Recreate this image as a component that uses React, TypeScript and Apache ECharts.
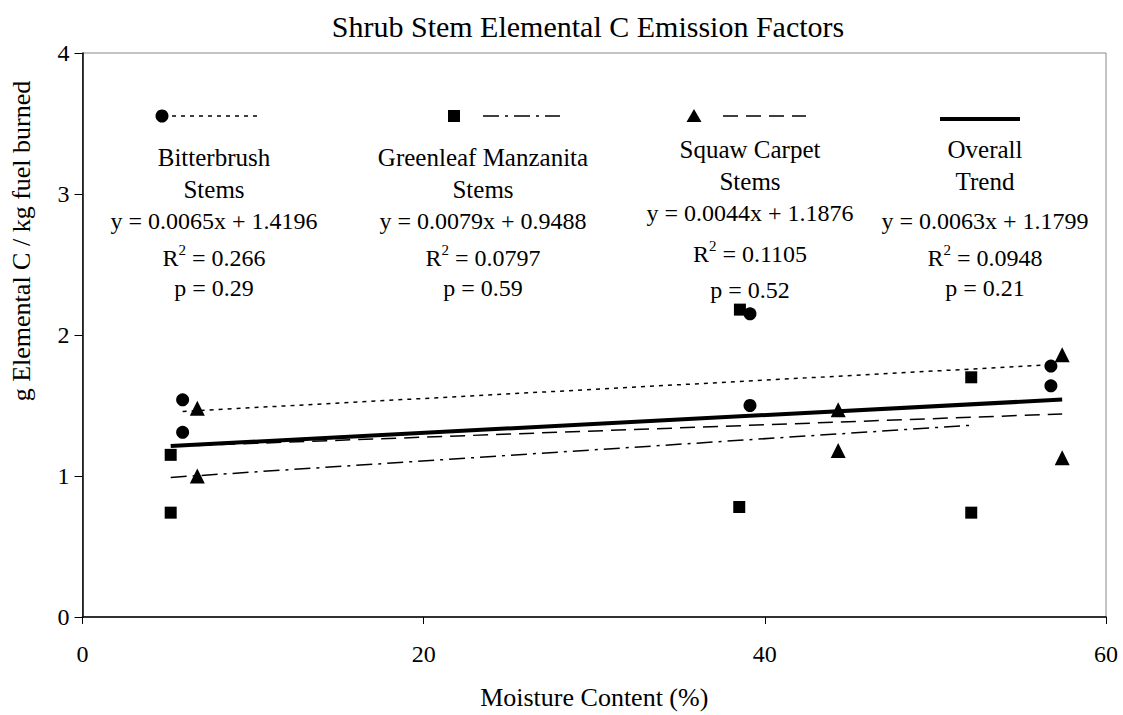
import React, { useEffect, useRef } from "react";
import * as echarts from "echarts";

// ---- data ----
const bitterX = [5.87, 5.87, 39.13, 39.13, 56.77, 56.77];
const bitterY = [1.54, 1.31, 2.15, 1.5, 1.78, 1.64];
const greenX = [5.17, 5.17, 38.54, 38.5, 52.1, 52.1];
const greenY = [1.15, 0.74, 2.18, 0.78, 1.7, 0.74];
const squawX = [6.73, 6.73, 44.3, 44.3, 57.43, 57.43];
const squawY = [1.48, 1.0, 1.47, 1.18, 1.86, 1.13];

// trendline end points
const bitterTrendX = [5.87, 56.77];
const bitterTrendY = [1.458, 1.789];
const greenTrendX = [5.17, 52.1];
const greenTrendY = [0.99, 1.36];
const squawTrendX = [6.73, 57.43];
const squawTrendY = [1.217, 1.44];
const overallTrendX = [5.17, 57.43];
const overallTrendY = [1.213, 1.542];

const xTicks = [0, 20, 40, 60];
const yTicks = [0, 1, 2, 3, 4];

const groupNames = [["Bitterbrush", "Stems"], ["Greenleaf Manzanita", "Stems"], ["Squaw Carpet", "Stems"], ["Overall", "Trend"]];
const equations = ["y = 0.0065x + 1.4196", "y = 0.0079x + 0.9488", "y = 0.0044x + 1.1876", "y = 0.0063x + 1.1799"];
const r2Values = ["0.266", "0.0797", "0.1105", "0.0948"];
const pValues = ["0.29", "0.59", "0.52", "0.21"];

const titleText = "Shrub Stem Elemental C Emission Factors";
const xName = "Moisture Content (%)";
const yName = "g Elemental C / kg fuel burned";

const FONT = "'Liberation Serif', 'Times New Roman', serif";

const pairs = (xs: number[], ys: number[]) => xs.map((x, i) => [x, ys[i]]);

export default function App() {
  const ref = useRef<HTMLDivElement>(null);
  useEffect(() => {
    if (!ref.current) return;
    const chart = echarts.init(ref.current, null, { renderer: "svg" });

    // layout of the annotation columns
    const colX = [214, 483, 750, 985];
    const nameY = [[157, 189], [157, 189], [149, 181], [149, 181]];
    const eqY = [221, 221, 213, 221];
    const r2Y = [256, 256, 252, 256];
    const pY = [288, 288, 290, 288];

    const txt = (x: number, y: number, text: string, size = 24): any => ({
      type: "text",
      x,
      y,
      style: { text, fill: "#000", font: `${size}px ${FONT}`, align: "center", verticalAlign: "middle" },
    });

    const graphics: any[] = [];
    colX.forEach((cx, i) => {
      graphics.push(txt(cx, nameY[i][0], groupNames[i][0], 25));
      graphics.push(txt(cx, nameY[i][1], groupNames[i][1], 25));
      graphics.push(txt(cx, eqY[i], equations[i], 24));
      graphics.push({
        type: "text",
        x: cx,
        y: r2Y[i],
        style: {
          text: `{r|R}{s|2}{r| = ${r2Values[i]}}`,
          align: "center",
          verticalAlign: "middle",
          rich: {
            r: { fontFamily: FONT, fontSize: 24, lineHeight: 28, fill: "#000", verticalAlign: "bottom" },
            s: { fontFamily: FONT, fontSize: 15, lineHeight: 28, fill: "#000", verticalAlign: "top", padding: [0, 0, 12, 0] },
          },
        },
      });
      graphics.push(txt(cx, pY[i], `p = ${pValues[i]}`, 24));
    });

    // legend samples
    graphics.push({ type: "circle", shape: { cx: 162, cy: 116, r: 6.5 }, style: { fill: "#000" } });
    graphics.push({ type: "line", shape: { x1: 172, y1: 116, x2: 258, y2: 116 }, style: { stroke: "#000", lineWidth: 1.5, lineDash: [4, 5] } });
    graphics.push({ type: "rect", shape: { x: 448, y: 110, width: 12, height: 12 }, style: { fill: "#000" } });
    graphics.push({ type: "line", shape: { x1: 483, y1: 116, x2: 560, y2: 116 }, style: { stroke: "#000", lineWidth: 1.5, lineDash: [16, 6, 3, 6] } });
    graphics.push({ type: "polygon", shape: { points: [[694, 109], [701.5, 122], [686.5, 122]] }, style: { fill: "#000" } });
    graphics.push({ type: "line", shape: { x1: 723, y1: 116, x2: 806, y2: 116 }, style: { stroke: "#000", lineWidth: 1.5, lineDash: [15, 8] } });
    graphics.push({ type: "line", shape: { x1: 940, y1: 119, x2: 1020, y2: 119 }, style: { stroke: "#000", lineWidth: 4 } });

    // y-axis name
    graphics.push({
      type: "text",
      x: 21,
      y: 241,
      rotation: Math.PI / 2,
      style: { text: yName, fill: "#000", font: `26px ${FONT}`, align: "center", verticalAlign: "middle" },
    });

    const lineSeries = (name: string, xs: number[], ys: number[], width: number, dash: any) => ({
      name,
      type: "line",
      data: pairs(xs, ys),
      showSymbol: false,
      symbol: "none",
      lineStyle: { color: "#000", width, type: dash },
      z: 2,
    });

    const scatterStyle = { color: "#000", opacity: 1 };

    chart.setOption({
      animation: false,
      backgroundColor: "#fff",
      title: {
        text: titleText,
        left: 583,
        top: 6,
        textAlign: "center",
        textStyle: { fontFamily: FONT, fontSize: 30, fontWeight: "normal", color: "#000" },
      },
      grid: { left: 82.5, right: 17, top: 53, bottom: 91, show: true, borderColor: "#888", borderWidth: 1 },
      xAxis: {
        type: "value",
        min: xTicks[0],
        max: xTicks[xTicks.length - 1],
        interval: 20,
        name: xName,
        nameLocation: "middle",
        nameGap: 67,
        nameTextStyle: { fontFamily: FONT, fontSize: 26, color: "#000" },
        axisLine: { lineStyle: { color: "#000", width: 1.5 } },
        axisTick: { show: true, inside: false, length: 7, lineStyle: { color: "#000" } },
        axisLabel: { fontFamily: FONT, fontSize: 24, color: "#000", margin: 25 },
        splitLine: { show: false },
      },
      yAxis: {
        type: "value",
        min: yTicks[0],
        max: yTicks[yTicks.length - 1],
        interval: 1,
        axisLine: { show: true, lineStyle: { color: "#000", width: 1.5 } },
        axisTick: { show: true, inside: false, length: 8, lineStyle: { color: "#000" } },
        axisLabel: { fontFamily: FONT, fontSize: 24, color: "#000", margin: 13 },
        splitLine: { show: false },
      },
      series: [
        lineSeries("Bitterbrush trend", bitterTrendX, bitterTrendY, 1.5, [4, 5]),
        lineSeries("Greenleaf trend", greenTrendX, greenTrendY, 1.5, [16, 6, 3, 6]),
        lineSeries("Squaw trend", squawTrendX, squawTrendY, 1.5, [15, 8]),
        lineSeries("Overall trend", overallTrendX, overallTrendY, 4, "solid"),
        { name: "Bitterbrush Stems", type: "scatter", data: pairs(bitterX, bitterY), symbol: "circle", symbolSize: 13, itemStyle: scatterStyle, z: 3 },
        { name: "Greenleaf Manzanita Stems", type: "scatter", data: pairs(greenX, greenY), symbol: "rect", symbolSize: 12, itemStyle: scatterStyle, z: 3 },
        { name: "Squaw Carpet Stems", type: "scatter", data: pairs(squawX, squawY), symbol: "triangle", symbolSize: 15, itemStyle: scatterStyle, z: 3 },
      ],
      graphic: graphics,
    });
    return () => chart.dispose();
  }, []);
  return <div ref={ref} style={{ position: "fixed", left: 0, top: 0, width: 1123, height: 715 }} />;
}
